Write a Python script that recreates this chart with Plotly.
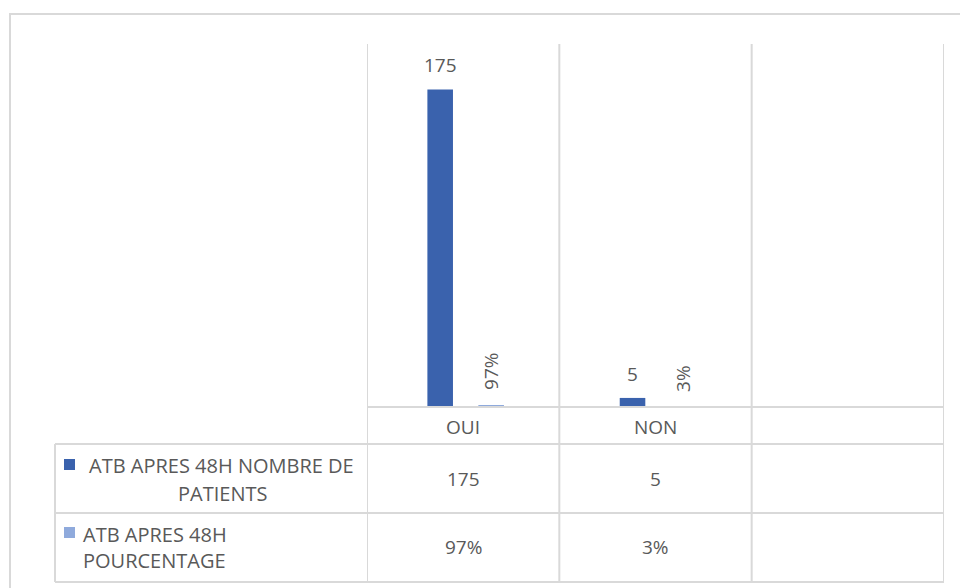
import plotly.graph_objects as go

# Antibiotic therapy still running after 48h: patient counts and share
categories = ["OUI", "NON"]
n_slots = 3  # the chart keeps an empty third column
series_names = ["ATB APRES 48H NOMBRE DE PATIENTS", "ATB APRES 48H POURCENTAGE"]
patients = [175, 5]
percentages = [0.97, 0.03]

W, H = 960, 588
PL, PR, PT, PB = 367, 944, 44, 407  # plot area in pixels
Y_MAX = 200

TEXT = "#595959"
GRID = "#d9d9d9"
BLUE = "#3a62ad"
LIGHT = "#8faadc"
FONT = "Open Sans"
NUM_SIZE = 19
LEG_SIZE = 20


def px(x):
    return (x - PL) / (PR - PL)


def py(y):
    return (PB - y) / (PB - PT)


BAR_W = 0.133
OFF_1 = -0.186
OFF_2 = 0.079

fig = go.Figure()
fig.add_trace(go.Bar(x=categories, y=patients, name=series_names[0],
                     marker=dict(color=BLUE, line=dict(width=0)),
                     width=BAR_W, offset=OFF_1, showlegend=False))
fig.add_trace(go.Bar(x=categories, y=percentages, name=series_names[1],
                     marker=dict(color=LIGHT, line=dict(width=0)),
                     width=BAR_W, offset=OFF_2, showlegend=False))

annotations = []
shapes = []

# value labels above the bars
for i, (n, p) in enumerate(zip(patients, percentages)):
    annotations.append(dict(x=i + OFF_1 + BAR_W / 2, y=n, xref="x", yref="y",
                            text=str(n), showarrow=False, yanchor="middle",
                            yshift=24, font=dict(family=FONT, size=NUM_SIZE, color=TEXT)))
    annotations.append(dict(x=i + OFF_2 + BAR_W / 2, y=p, xref="x", yref="y",
                            text=f"{round(p * 100)}%", showarrow=False,
                            textangle=-90, yanchor="bottom", yshift=13,
                            font=dict(family=FONT, size=NUM_SIZE, color=TEXT)))

# data table: category row and one row per series
row_tops = [PB, 444, 513, 582]


def cell(x, yc, text, size=NUM_SIZE):
    return dict(x=x, y=py(yc), xref="x", yref="paper", text=text,
                showarrow=False, xanchor="center", yanchor="middle",
                font=dict(family=FONT, size=size, color=TEXT))


for i, c in enumerate(categories):
    annotations.append(cell(i, 427, c))
    annotations.append(cell(i, 479, str(patients[i])))
    annotations.append(cell(i, 547, f"{round(percentages[i] * 100)}%"))

# legend keys inside the table
TL = 55
legend_rows = [
    (BLUE, 459, [("ATB APRES 48H NOMBRE DE", 465, 221, "center"), ("PATIENTS", 493, 222, "center")]),
    (LIGHT, 527, [("ATB APRES 48H", 534, 81, "left"), ("POURCENTAGE", 560, 81, "left")]),
]
for color, sq_top, lines in legend_rows:
    shapes.append(dict(type="rect", xref="paper", yref="paper",
                       x0=px(64), x1=px(75), y0=py(sq_top), y1=py(sq_top + 11),
                       fillcolor=color, line=dict(width=0)))
    for txt, yc, xa, anchor in lines:
        annotations.append(dict(x=px(xa), y=py(yc), xref="paper", yref="paper",
                                text=txt, showarrow=False, xanchor=anchor,
                                yanchor="middle",
                                font=dict(family=FONT, size=LEG_SIZE, color=TEXT)))

line = dict(color=GRID, width=2)
# vertical separators between category columns, running through the table
for b in range(n_slots + 1):
    shapes.append(dict(type="line", xref="x", yref="paper", x0=b - 0.5, x1=b - 0.5,
                       y0=1, y1=py(row_tops[3]), line=line))
# axis line and table rows
shapes.append(dict(type="line", xref="paper", yref="paper", x0=0, x1=1,
                   y0=0, y1=0, line=line))
for yt in row_tops[1:]:
    shapes.append(dict(type="line", xref="paper", yref="paper", x0=px(TL), x1=1,
                       y0=py(yt), y1=py(yt), line=line))
shapes.append(dict(type="line", xref="paper", yref="paper", x0=px(TL), x1=px(TL),
                   y0=py(row_tops[1]), y1=py(row_tops[3]), line=line))
# chart frame
shapes.append(dict(type="rect", xref="paper", yref="paper",
                   x0=px(10), x1=px(1000), y0=py(14), y1=py(640),
                   line=dict(color=GRID, width=2), fillcolor="rgba(0,0,0,0)"))

fig.update_layout(
    width=W, height=H,
    margin=dict(l=PL, r=W - PR, t=PT, b=H - PB, pad=0),
    paper_bgcolor="white", plot_bgcolor="white",
    barmode="overlay",
    xaxis=dict(type="category", categoryorder="array", categoryarray=categories,
               range=[-0.5, n_slots - 0.5], showticklabels=False, ticks="",
               showgrid=False, zeroline=False, showline=False, fixedrange=True),
    yaxis=dict(range=[0, Y_MAX], visible=False, fixedrange=True),
    annotations=annotations, shapes=shapes,
    font=dict(family=FONT, color=TEXT),
)

fig.write_html("out.html", config={"displayModeBar": False})
